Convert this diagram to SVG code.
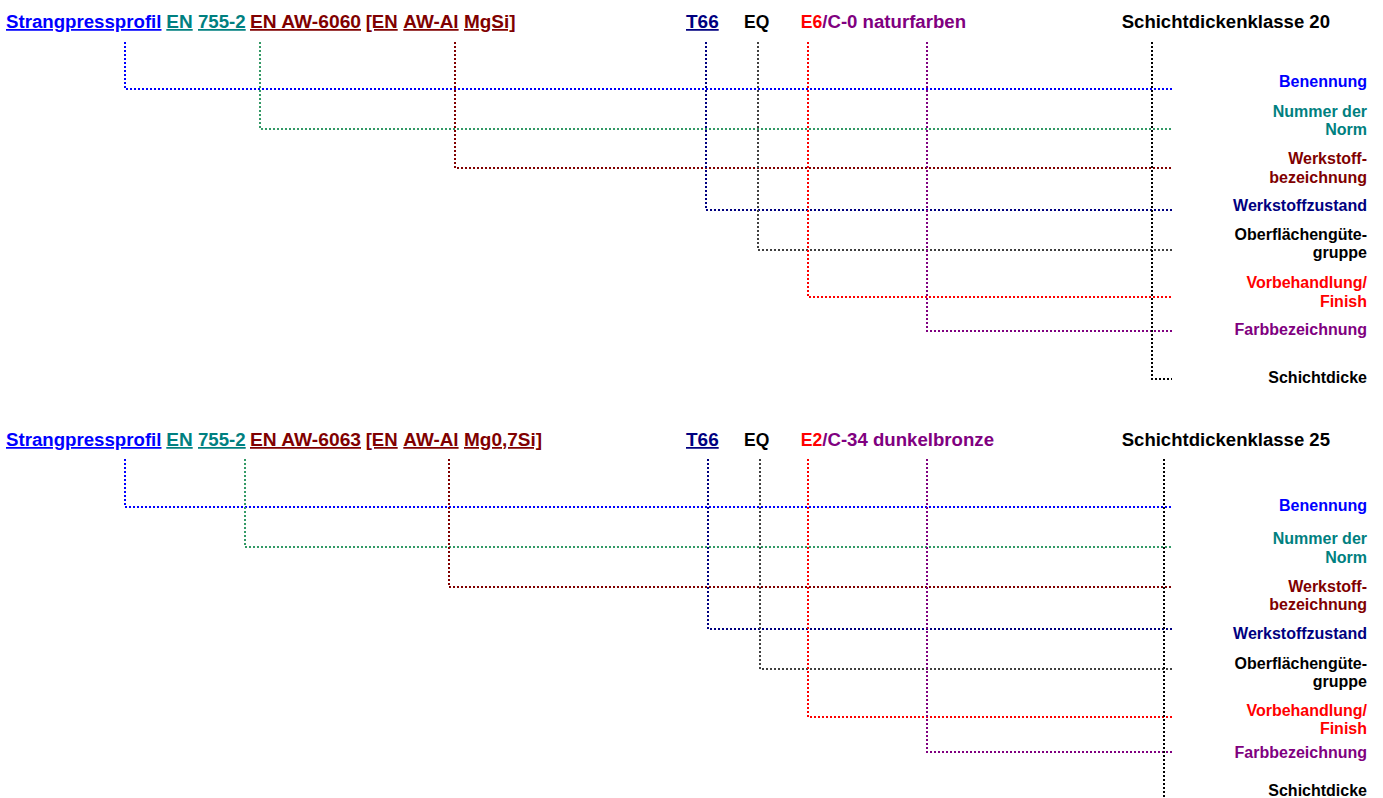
<svg xmlns="http://www.w3.org/2000/svg" width="1383" height="798" viewBox="0 0 1383 798">
<style>
text{font-family:"Liberation Sans",Arial,Helvetica,sans-serif;font-weight:bold}
.h{font-size:17.5px}
.u{text-decoration:underline}
.l{font-size:16px;text-anchor:end}
.c{fill:none;stroke-width:2;stroke-dasharray:2 2}
.tb{fill:#0000FF}.tt{fill:#008080}.tr{fill:#800000}.tn{fill:#000080}.tk{fill:#000000}.te{fill:#FF0000}.tp{fill:#800080}
.sb{stroke:#0000FF}.st{stroke:#339966}.sr{stroke:#800000}.sn{stroke:#000080}.sg{stroke:#404040}.se{stroke:#FF0000}.sp{stroke:#800080}.sk{stroke:#000000}
</style>
<rect width="1383" height="798" fill="#ffffff"/>

<g id="connectors">
  <path class="c sb" d="M125,42 V89 H1172"/>
  <path class="c st" d="M260,42 V129 H1172"/>
  <path class="c sr" d="M455,42 V168 H1172"/>
  <path class="c sn" d="M706,42 V210 H1172"/>
  <path class="c sg" d="M758,42 V250 H1172"/>
  <path class="c se" d="M808,42 V297 H1172"/>
  <path class="c sp" d="M927,42 V331 H1172"/>
  <path class="c sk" d="M1152,42 V379 H1172"/>

  <path class="c sb" d="M125,459 V507 H1172"/>
  <path class="c st" d="M245,459 V547 H1172"/>
  <path class="c sr" d="M449,459 V587 H1172"/>
  <path class="c sn" d="M708,459 V629 H1172"/>
  <path class="c sg" d="M760,459 V669 H1172"/>
  <path class="c se" d="M808,459 V717 H1172"/>
  <path class="c sp" d="M927,459 V752 H1172"/>
  <path class="c sk" d="M1164,459 V800"/>
</g>

<g id="header1">
  <text class="h u tb" x="6" y="28" textLength="155.5" lengthAdjust="spacingAndGlyphs">Strangpressprofil</text>
  <text class="h u tt" x="166.3" y="28" textLength="26.4" lengthAdjust="spacingAndGlyphs">EN</text>
  <text class="h u tt" x="198" y="28" textLength="47.7" lengthAdjust="spacingAndGlyphs">755-2</text>
  <text class="h u tr" x="250" y="28" textLength="111" lengthAdjust="spacingAndGlyphs">EN AW-6060</text>
  <text class="h u tr" x="365.7" y="28" textLength="32" lengthAdjust="spacingAndGlyphs">[EN</text>
  <text class="h u tr" x="403.3" y="28" textLength="55.3" lengthAdjust="spacingAndGlyphs">AW-Al</text>
  <text class="h u tr" x="464" y="28" textLength="51.5" lengthAdjust="spacingAndGlyphs">MgSi]</text>
  <text class="h u tn" x="686" y="28" textLength="32.7" lengthAdjust="spacingAndGlyphs">T66</text>
  <text class="h tk" x="744" y="28" textLength="25.3" lengthAdjust="spacingAndGlyphs">EQ</text>
  <text class="h te" x="800.7" y="28" textLength="21.6" lengthAdjust="spacingAndGlyphs">E6</text>
  <text class="h tp" x="822.3" y="28" textLength="143.7" lengthAdjust="spacingAndGlyphs">/C-0 naturfarben</text>
  <text class="h tk" x="1121.7" y="28" textLength="208.3" lengthAdjust="spacingAndGlyphs">Schichtdickenklasse 20</text>
</g>

<g id="labels1">
  <text class="l tb" x="1367" y="87.3">Benennung</text>
  <text class="l tt" x="1367" y="116.7">Nummer der</text>
  <text class="l tt" x="1367" y="135.3">Norm</text>
  <text class="l tr" x="1367" y="164.3">Werkstoff-</text>
  <text class="l tr" x="1367" y="182.5">bezeichnung</text>
  <text class="l tn" x="1367" y="211">Werkstoffzustand</text>
  <text class="l tk" x="1367" y="240">Oberflächengüte-</text>
  <text class="l tk" x="1367" y="258">gruppe</text>
  <text class="l te" x="1367" y="288">Vorbehandlung/</text>
  <text class="l te" x="1367" y="306.7">Finish</text>
  <text class="l tp" x="1367" y="335">Farbbezeichnung</text>
  <text class="l tk" x="1367" y="382.7">Schichtdicke</text>
</g>

<g id="header2">
  <text class="h u tb" x="6" y="446" textLength="155.5" lengthAdjust="spacingAndGlyphs">Strangpressprofil</text>
  <text class="h u tt" x="166.3" y="446" textLength="26.4" lengthAdjust="spacingAndGlyphs">EN</text>
  <text class="h u tt" x="198" y="446" textLength="47.7" lengthAdjust="spacingAndGlyphs">755-2</text>
  <text class="h u tr" x="250" y="446" textLength="111" lengthAdjust="spacingAndGlyphs">EN AW-6063</text>
  <text class="h u tr" x="365.7" y="446" textLength="32" lengthAdjust="spacingAndGlyphs">[EN</text>
  <text class="h u tr" x="403.3" y="446" textLength="55.3" lengthAdjust="spacingAndGlyphs">AW-Al</text>
  <text class="h u tr" x="464" y="446" textLength="78" lengthAdjust="spacingAndGlyphs">Mg0,7Si]</text>
  <text class="h u tn" x="686" y="446" textLength="32.7" lengthAdjust="spacingAndGlyphs">T66</text>
  <text class="h tk" x="744" y="446" textLength="25.3" lengthAdjust="spacingAndGlyphs">EQ</text>
  <text class="h te" x="800.7" y="446" textLength="21.6" lengthAdjust="spacingAndGlyphs">E2</text>
  <text class="h tp" x="822.3" y="446" textLength="171.7" lengthAdjust="spacingAndGlyphs">/C-34 dunkelbronze</text>
  <text class="h tk" x="1121.7" y="446" textLength="208.3" lengthAdjust="spacingAndGlyphs">Schichtdickenklasse 25</text>
</g>

<g id="labels2">
  <text class="l tb" x="1367" y="511">Benennung</text>
  <text class="l tt" x="1367" y="544.3">Nummer der</text>
  <text class="l tt" x="1367" y="563">Norm</text>
  <text class="l tr" x="1367" y="592">Werkstoff-</text>
  <text class="l tr" x="1367" y="609.5">bezeichnung</text>
  <text class="l tn" x="1367" y="639">Werkstoffzustand</text>
  <text class="l tk" x="1367" y="668.7">Oberflächengüte-</text>
  <text class="l tk" x="1367" y="686.5">gruppe</text>
  <text class="l te" x="1367" y="715.7">Vorbehandlung/</text>
  <text class="l te" x="1367" y="734">Finish</text>
  <text class="l tp" x="1367" y="757.7">Farbbezeichnung</text>
  <text class="l tk" x="1367" y="796">Schichtdicke</text>
</g>
</svg>
